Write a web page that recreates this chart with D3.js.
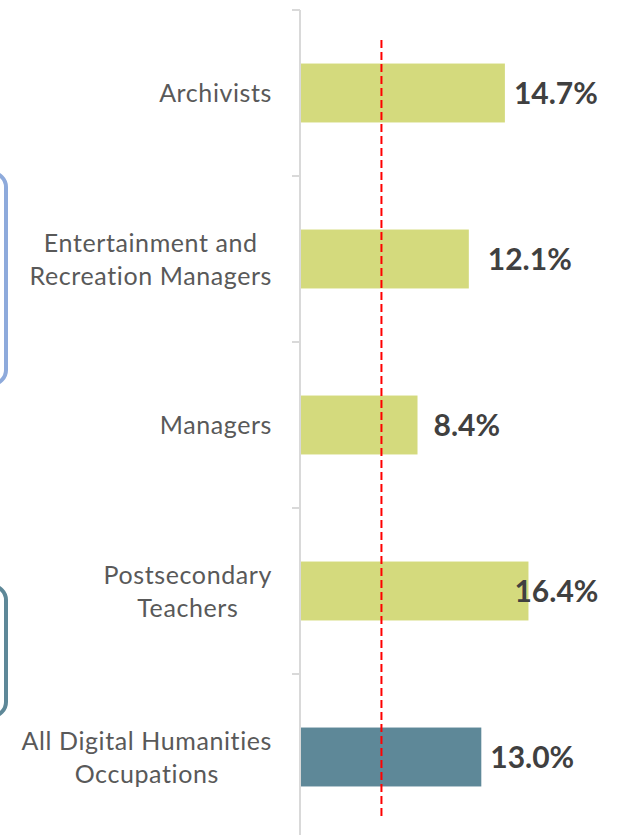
<!DOCTYPE html>
<html><head><meta charset="utf-8">
<script src="https://cdn.jsdelivr.net/npm/d3@7"></script>
<style>body{margin:0;background:#fff;overflow:hidden}svg{display:block}</style>
</head><body>
<script>
const categories = ["Archivists", "Entertainment and\nRecreation Managers", "Managers", "Postsecondary\nTeachers", "All Digital Humanities\nOccupations"];
const values = [14.7, 12.1, 8.4, 16.4, 13.0];
const barColors = ["#d4da7d", "#d4da7d", "#d4da7d", "#d4da7d", "#5e8898"];
const referenceValue = 5.8;
// manual label offsets from bar end (layout, px)
const labelDx = [9, 19, 16, -14, 9];

const W = 622, H = 835;
const svg = d3.select("body").append("svg").attr("width", W).attr("height", H);

const x = d3.scaleLinear().domain([0, 1]).range([301, 301 + 13.87]);
const y = d3.scaleBand().domain(categories).range([10, 840]).paddingInner(0.645).paddingOuter(0.3225);

// left decoration boxes
svg.append("rect").attr("x", -30).attr("y", 173).attr("width", 36).attr("height", 211)
  .attr("rx", 14).attr("fill", "none").attr("stroke", "#8eaadb").attr("stroke-width", 4);
svg.append("rect").attr("x", -30).attr("y", 586).attr("width", 36).attr("height", 130)
  .attr("rx", 14).attr("fill", "none").attr("stroke", "#5e8898").attr("stroke-width", 4);

// axis
const yTicks = d3.range(categories.length + 1).map(i => 10 + i * y.step());
svg.append("line").attr("x1", 300).attr("x2", 300).attr("y1", 10).attr("y2", 840)
  .attr("stroke", "#d9d9d9").attr("stroke-width", 2);
svg.selectAll(".tk").data(yTicks).join("line").attr("class", "tk")
  .attr("x1", 292).attr("x2", 300).attr("y1", d => d).attr("y2", d => d)
  .attr("stroke", "#d9d9d9").attr("stroke-width", 2);

// bars
svg.selectAll(".bar").data(values).join("rect").attr("class", "bar")
  .attr("x", x(0)).attr("y", (d, i) => y(categories[i]))
  .attr("width", d => x(d) - x(0)).attr("height", y.bandwidth())
  .attr("fill", (d, i) => barColors[i]);

// reference line
svg.append("line").attr("x1", x(referenceValue)).attr("x2", x(referenceValue))
  .attr("y1", 40).attr("y2", 818).attr("stroke", "#ff0000").attr("stroke-width", 2)
  .attr("stroke-dasharray", "8,4");

// value labels
svg.selectAll(".val").data(values).join("text").attr("class", "val")
  .attr("x", (d, i) => x(d) + labelDx[i]).attr("y", (d, i) => y(categories[i]) + y.bandwidth() / 2)
  .attr("dy", "0.36em").attr("font-family", "Lato, sans-serif").attr("font-weight", "bold")
  .attr("font-size", 30).attr("fill", "#404040").text(d => d.toFixed(1) + "%");

// category labels: block right-aligned at 272, lines centered within block
categories.forEach((c, i) => {
  const lines = c.split("\n");
  const cy = y(c) + y.bandwidth() / 2;
  const t = svg.append("text").attr("text-anchor", "middle").attr("font-family", "Lato, sans-serif")
    .attr("font-size", 25).attr("fill", "#595959").attr("letter-spacing", 0.6);
  const spans = lines.map((l, j) => t.append("tspan")
    .attr("y", cy + (j - (lines.length - 1) / 2) * 33).attr("dy", "0.36em").text(l));
  const maxW = d3.max(spans, s => s.node().getComputedTextLength());
  spans.forEach(s => s.attr("x", 272 - maxW / 2));
});
</script>
</body></html>
